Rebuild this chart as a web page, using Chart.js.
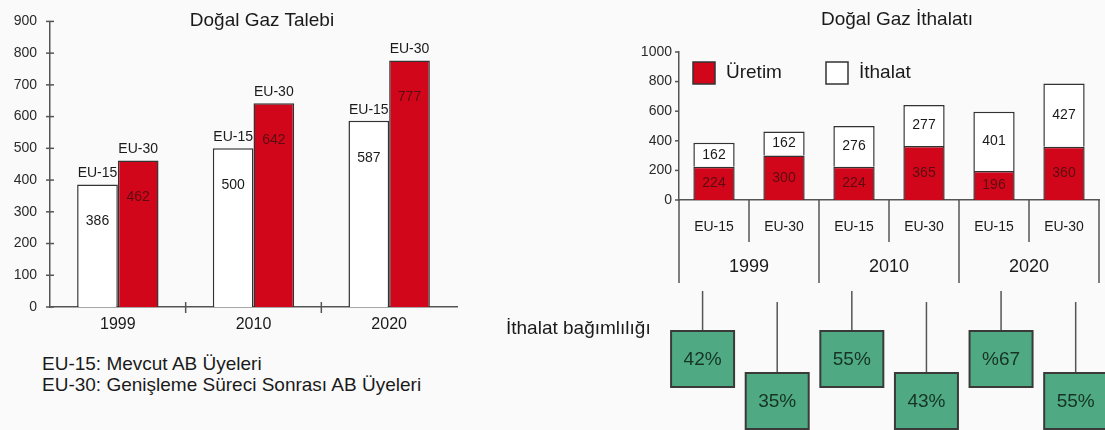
<!DOCTYPE html>
<html lang="tr">
<head>
<meta charset="utf-8">
<title>Doğal Gaz Talebi ve İthalatı</title>
<script src="https://cdn.jsdelivr.net/npm/chart.js@4.4.1/dist/chart.umd.min.js"></script>
<style>
  html, body { margin: 0; padding: 0; background: #fafafa; }
  body { width: 1105px; height: 430px; position: relative; overflow: hidden;
         font-family: "Liberation Sans", Arial, sans-serif; color: #1a1a1a; }
  canvas { position: absolute; }
  #demand { left: 0; top: 0; }
  #imports { left: 600px; top: 0; }
  .txt { position: absolute; white-space: nowrap; font-size: 19px; line-height: 22px; }
  .center { text-align: center; width: 240px; }
</style>
</head>
<body>
<canvas id="demand" width="480" height="340"></canvas>
<canvas id="imports" width="505" height="430"></canvas>

<div class="txt center" style="left:142px; top:9px;">Doğal Gaz Talebi</div>
<div class="txt center" style="left:777px; top:8px;">Doğal Gaz İthalatı</div>
<div class="txt" style="left:42px; top:353px; line-height:21px;">EU-15: Mevcut AB Üyeleri<br>EU-30: Genişleme Süreci Sonrası AB Üyeleri</div>
<div class="txt" style="left:506px; top:317px;">İthalat bağımlılığı</div>

<script>
// ---- data ----
const years = ['1999', '2010', '2020'];
const seriesNames = ['EU-15', 'EU-30'];
const demandEU15 = [386, 500, 587];
const demandEU30 = [462, 642, 777];

const subGroups = ['EU-15', 'EU-30', 'EU-15', 'EU-30', 'EU-15', 'EU-30'];
const productionName = 'Üretim';
const importName = 'İthalat';
const production = [224, 300, 224, 365, 196, 360];
const imports = [162, 162, 276, 277, 401, 427];
const dependency = ['42%', '35%', '55%', '43%', '%67', '55%'];

// ---- styling ----
const FONT = '"Liberation Sans", Arial, sans-serif';
const TEXT = '#1a1a1a';
const RED = '#d2061a';
const EDGE = '#333333';
const AXIS = '#555555';
const GREEN = '#4faa83';
const RED_TEXT = '#5c0b10';

function seg(ctx, x1, y1, x2, y2) {
  ctx.beginPath(); ctx.moveTo(x1, y1); ctx.lineTo(x2, y2); ctx.stroke();
}

// value-axis ticks crossing the axis, category separators, bar captions
const demandMarks = {
  id: 'demandMarks',
  afterDraw(chart) {
    const { ctx, chartArea: a, scales: { x, y } } = chart;
    ctx.save();
    ctx.strokeStyle = AXIS; ctx.lineWidth = 1.5;
    y.ticks.forEach((t, i) => { const py = y.getPixelForTick(i); seg(ctx, a.left - 4, py, a.left + 4, py); });
    for (let i = 1; i < years.length; i++) {
      const px = (x.getPixelForValue(i - 1) + x.getPixelForValue(i)) / 2;
      seg(ctx, px, a.bottom - 5, px, a.bottom + 6);
    }
    ctx.font = '14px ' + FONT; ctx.textAlign = 'center'; ctx.textBaseline = 'middle';
    chart.data.datasets.forEach((ds, di) => {
      chart.getDatasetMeta(di).data.forEach((bar, i) => {
        const p = bar.getProps(['x', 'y'], true);
        ctx.fillStyle = TEXT;
        ctx.fillText(ds.label, p.x, p.y - 11);
        ctx.fillStyle = ds.valueColor;
        ctx.fillText(String(ds.data[i]), p.x, p.y + 37);
      });
    });
    ctx.restore();
  }
};

new Chart(document.getElementById('demand'), {
  type: 'bar',
  data: {
    labels: years,
    datasets: [
      { label: seriesNames[0], data: demandEU15, backgroundColor: '#ffffff', borderColor: EDGE, borderWidth: 1.5, valueColor: TEXT },
      { label: seriesNames[1], data: demandEU30, backgroundColor: RED, borderColor: EDGE, borderWidth: 1.5, valueColor: RED_TEXT }
    ]
  },
  options: {
    responsive: false, animation: false, events: [],
    layout: { padding: { left: 0, right: 23, top: 17, bottom: 0 } },
    plugins: { legend: { display: false }, tooltip: { enabled: false } },
    datasets: { bar: { categoryPercentage: 0.6, barPercentage: 1.0 } },
    scales: {
      x: {
        grid: { display: false, drawTicks: false },
        border: { display: true, color: AXIS, width: 1.5 },
        ticks: { font: { family: FONT, size: 16 }, color: TEXT, padding: 8 },
        afterFit(s) { s.height = 33; }
      },
      y: {
        min: 0, max: 900,
        grid: { display: false, drawTicks: false },
        border: { display: true, color: AXIS, width: 1.5 },
        ticks: { stepSize: 100, font: { family: FONT, size: 14 }, color: '#2a2a2a', padding: 13,
                 callback: v => String(v) },
        afterFit(s) { s.width = 50; }
      }
    }
  },
  plugins: [demandMarks]
});

// legend, two-level category axis, segment values and dependency boxes
const importMarks = {
  id: 'importMarks',
  afterDraw(chart) {
    const { ctx, chartArea: a, scales: { x, y } } = chart;
    const n = subGroups.length;
    const half = (x.getPixelForValue(1) - x.getPixelForValue(0)) / 2;
    const edge = i => (i < n ? x.getPixelForValue(i) - half : x.getPixelForValue(n - 1) + half);
    ctx.save();
    ctx.strokeStyle = AXIS; ctx.lineWidth = 1.5;
    y.ticks.forEach((t, i) => { const py = y.getPixelForTick(i); seg(ctx, a.left - 4, py, a.left, py); });
    for (let i = 0; i <= n; i++) {
      const px = edge(i);
      seg(ctx, px, a.bottom, px, a.bottom + (i % 2 === 0 ? 83 : 42));
    }
    ctx.fillStyle = TEXT; ctx.font = '18px ' + FONT;
    ctx.textAlign = 'center'; ctx.textBaseline = 'middle';
    years.forEach((yr, k) => ctx.fillText(yr, (edge(2 * k) + edge(2 * k + 2)) / 2, a.bottom + 67));

    // legend
    chart.data.datasets.forEach((ds, di) => {
      const bx = a.left + 14 + di * 133, by = a.top + 10;
      ctx.fillStyle = ds.backgroundColor; ctx.fillRect(bx, by, 22, 22);
      ctx.strokeStyle = EDGE; ctx.lineWidth = 1.5; ctx.strokeRect(bx, by, 22, 22);
      ctx.fillStyle = TEXT; ctx.textAlign = 'left'; ctx.font = '19px ' + FONT;
      ctx.fillText(ds.label, bx + 33, by + 11);
    });

    // values inside each stacked segment
    ctx.font = '14px ' + FONT; ctx.textAlign = 'center';
    chart.data.datasets.forEach((ds, di) => {
      chart.getDatasetMeta(di).data.forEach((bar, i) => {
        const p = bar.getProps(['x', 'y', 'base'], true);
        ctx.fillStyle = ds.valueColor;
        ctx.fillText(String(ds.data[i]), p.x, (p.y + p.base) / 2);
      });
    });

    // import dependency boxes hanging below the columns, fanned out slightly wider
    const mid = (a.left + a.right) / 2 - 2;
    const spread = 1.066;
    ctx.font = '19px ' + FONT;
    dependency.forEach((txt, i) => {
      const cx = mid + (x.getPixelForValue(i) - mid) * spread;
      const upper = i % 2 === 0;
      const lineTop = a.bottom + (upper ? 91 : 102);
      const boxTop = a.bottom + (upper ? 131 : 173);
      ctx.strokeStyle = '#555'; ctx.lineWidth = 1.5;
      seg(ctx, cx, lineTop, cx, boxTop);
      ctx.fillStyle = GREEN; ctx.fillRect(cx - 31.5, boxTop, 63, 56);
      ctx.strokeStyle = '#3a3a3a'; ctx.lineWidth = 2; ctx.strokeRect(cx - 31.5, boxTop, 63, 56);
      ctx.fillStyle = '#163326';
      ctx.fillText(txt, cx, boxTop + 29);
    });
    ctx.restore();
  }
};

new Chart(document.getElementById('imports'), {
  type: 'bar',
  data: {
    labels: subGroups,
    datasets: [
      { label: productionName, data: production, backgroundColor: RED, borderColor: EDGE, borderWidth: 1.5, valueColor: RED_TEXT },
      { label: importName, data: imports, backgroundColor: '#ffffff', borderColor: EDGE, borderWidth: 1.5, valueColor: TEXT }
    ]
  },
  options: {
    responsive: false, animation: false, events: [],
    layout: { padding: { left: 0, right: 6, top: 52, bottom: 0 } },
    plugins: { legend: { display: false }, tooltip: { enabled: false } },
    datasets: { bar: { categoryPercentage: 0.59, barPercentage: 1.0 } },
    scales: {
      x: {
        stacked: true,
        grid: { display: false, drawTicks: false },
        border: { display: true, color: AXIS, width: 1.5 },
        ticks: { font: { family: FONT, size: 14 }, color: TEXT, padding: 19 },
        afterFit(s) { s.height = 230; }
      },
      y: {
        stacked: true, min: 0, max: 1000,
        grid: { display: false, drawTicks: false },
        border: { display: true, color: AXIS, width: 1.5 },
        ticks: { stepSize: 200, font: { family: FONT, size: 14 }, color: '#2a2a2a', padding: 7,
                 callback: v => String(v) },
        afterFit(s) { s.width = 79; }
      }
    }
  },
  plugins: [importMarks]
});
</script>
</body>
</html>
